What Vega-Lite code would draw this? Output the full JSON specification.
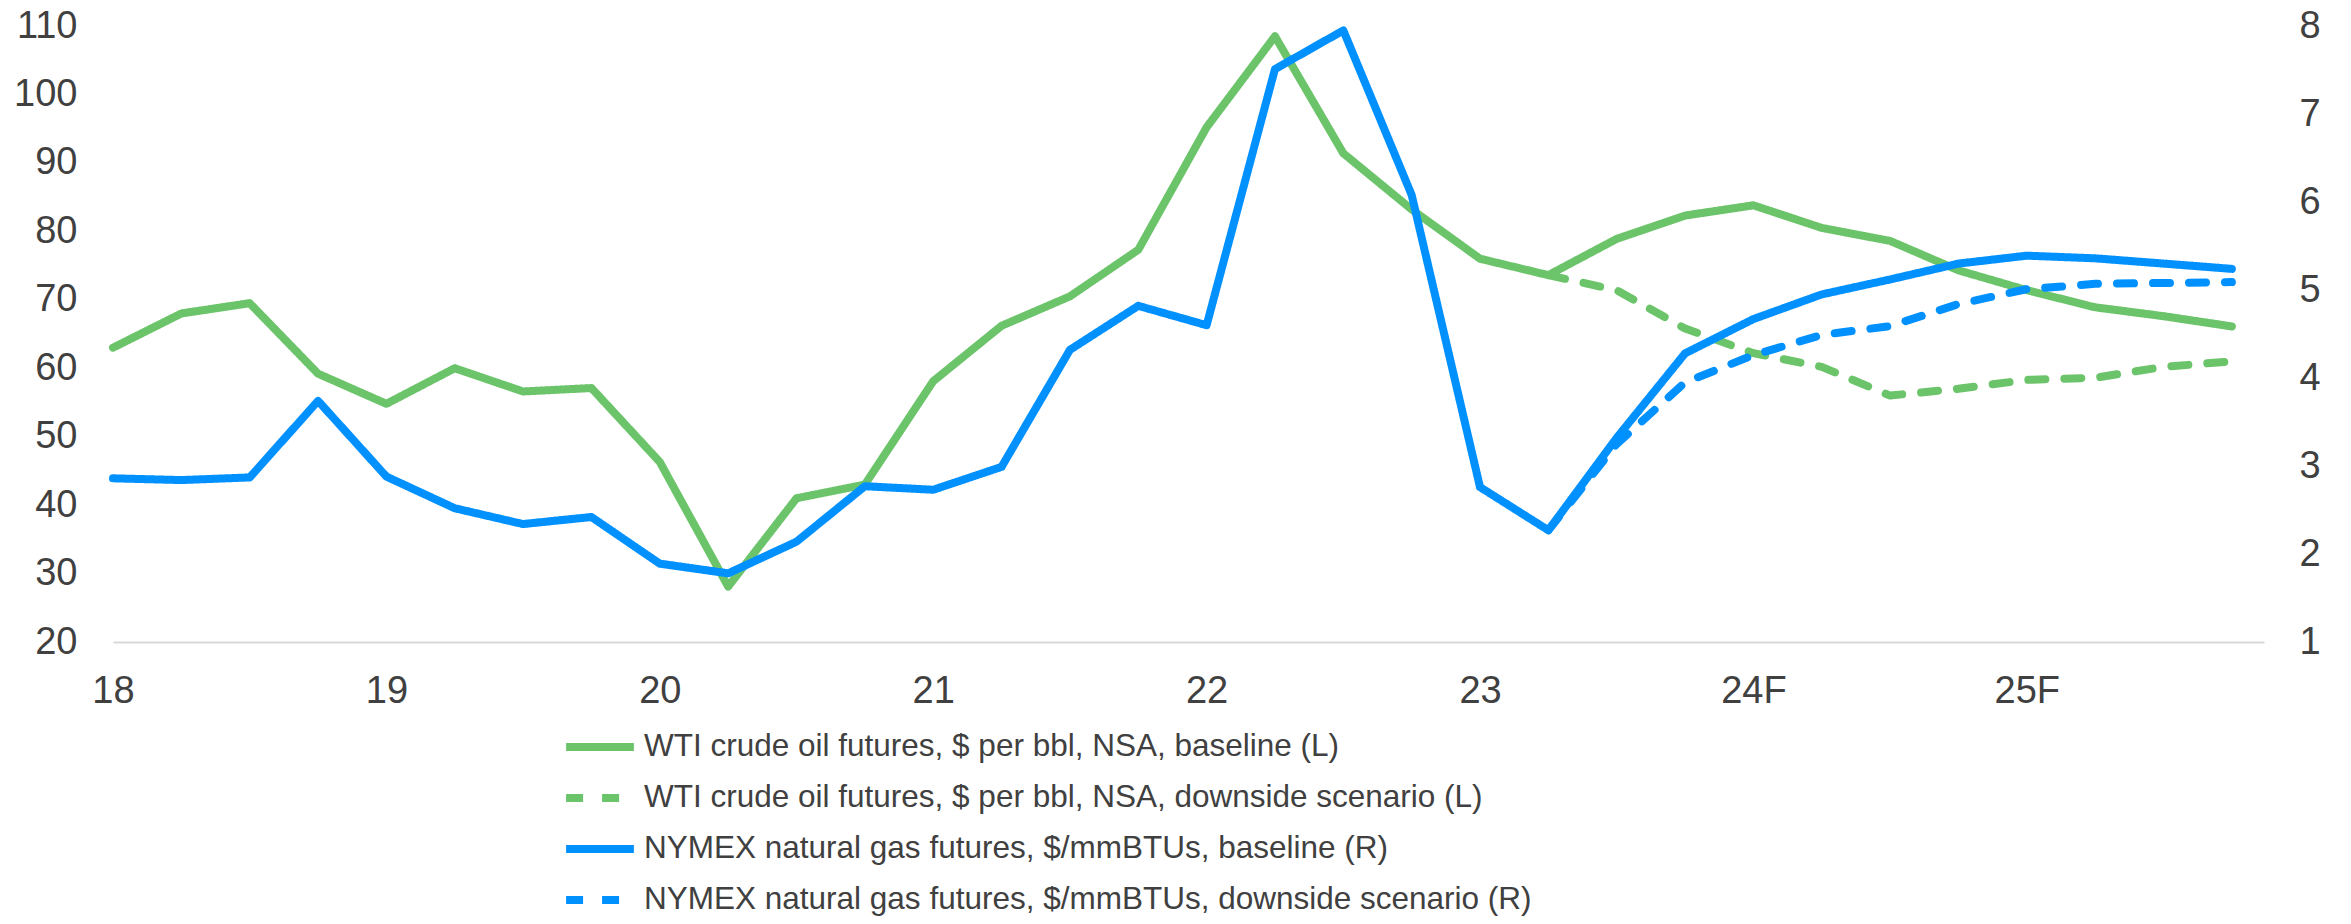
{
  "$schema": "https://vega.github.io/schema/vega-lite/v6.json",
  "width": 2151,
  "height": 616,
  "autosize": {"type": "none"},
  "padding": {"left": 113, "top": 26, "right": 87, "bottom": 282},
  "background": "white",
  "config": {
    "view": {"stroke": null},
    "font": "Liberation Sans",
    "axis": {"labelFont": "Liberation Sans", "labelFontSize": 38, "labelColor": "#404040", "ticks": false, "grid": false, "title": null}
  },
  "datasets": {
    "oil": [
      {"q": 0, "series": "WTI crude oil futures, $ per bbl, NSA, baseline (L)", "value": 63.0},
      {"q": 1, "series": "WTI crude oil futures, $ per bbl, NSA, baseline (L)", "value": 68.0},
      {"q": 2, "series": "WTI crude oil futures, $ per bbl, NSA, baseline (L)", "value": 69.5},
      {"q": 3, "series": "WTI crude oil futures, $ per bbl, NSA, baseline (L)", "value": 59.2},
      {"q": 4, "series": "WTI crude oil futures, $ per bbl, NSA, baseline (L)", "value": 54.8},
      {"q": 5, "series": "WTI crude oil futures, $ per bbl, NSA, baseline (L)", "value": 60.0},
      {"q": 6, "series": "WTI crude oil futures, $ per bbl, NSA, baseline (L)", "value": 56.6},
      {"q": 7, "series": "WTI crude oil futures, $ per bbl, NSA, baseline (L)", "value": 57.1},
      {"q": 8, "series": "WTI crude oil futures, $ per bbl, NSA, baseline (L)", "value": 46.3},
      {"q": 9, "series": "WTI crude oil futures, $ per bbl, NSA, baseline (L)", "value": 28.1},
      {"q": 10, "series": "WTI crude oil futures, $ per bbl, NSA, baseline (L)", "value": 41.0},
      {"q": 11, "series": "WTI crude oil futures, $ per bbl, NSA, baseline (L)", "value": 43.0},
      {"q": 12, "series": "WTI crude oil futures, $ per bbl, NSA, baseline (L)", "value": 58.1},
      {"q": 13, "series": "WTI crude oil futures, $ per bbl, NSA, baseline (L)", "value": 66.2},
      {"q": 14, "series": "WTI crude oil futures, $ per bbl, NSA, baseline (L)", "value": 70.5},
      {"q": 15, "series": "WTI crude oil futures, $ per bbl, NSA, baseline (L)", "value": 77.3},
      {"q": 16, "series": "WTI crude oil futures, $ per bbl, NSA, baseline (L)", "value": 95.2},
      {"q": 17, "series": "WTI crude oil futures, $ per bbl, NSA, baseline (L)", "value": 108.5},
      {"q": 18, "series": "WTI crude oil futures, $ per bbl, NSA, baseline (L)", "value": 91.4},
      {"q": 19, "series": "WTI crude oil futures, $ per bbl, NSA, baseline (L)", "value": 83.2},
      {"q": 20, "series": "WTI crude oil futures, $ per bbl, NSA, baseline (L)", "value": 76.0},
      {"q": 21, "series": "WTI crude oil futures, $ per bbl, NSA, baseline (L)", "value": 73.6},
      {"q": 22, "series": "WTI crude oil futures, $ per bbl, NSA, baseline (L)", "value": 78.9},
      {"q": 23, "series": "WTI crude oil futures, $ per bbl, NSA, baseline (L)", "value": 82.3},
      {"q": 24, "series": "WTI crude oil futures, $ per bbl, NSA, baseline (L)", "value": 83.8},
      {"q": 25, "series": "WTI crude oil futures, $ per bbl, NSA, baseline (L)", "value": 80.5},
      {"q": 26, "series": "WTI crude oil futures, $ per bbl, NSA, baseline (L)", "value": 78.6},
      {"q": 27, "series": "WTI crude oil futures, $ per bbl, NSA, baseline (L)", "value": 74.3},
      {"q": 28, "series": "WTI crude oil futures, $ per bbl, NSA, baseline (L)", "value": 71.4},
      {"q": 29, "series": "WTI crude oil futures, $ per bbl, NSA, baseline (L)", "value": 68.9},
      {"q": 30, "series": "WTI crude oil futures, $ per bbl, NSA, baseline (L)", "value": 67.6},
      {"q": 31, "series": "WTI crude oil futures, $ per bbl, NSA, baseline (L)", "value": 66.1},
      {"q": 21, "series": "WTI crude oil futures, $ per bbl, NSA, downside scenario (L)", "value": 73.6},
      {"q": 22, "series": "WTI crude oil futures, $ per bbl, NSA, downside scenario (L)", "value": 71.4},
      {"q": 23, "series": "WTI crude oil futures, $ per bbl, NSA, downside scenario (L)", "value": 65.8},
      {"q": 24, "series": "WTI crude oil futures, $ per bbl, NSA, downside scenario (L)", "value": 62.2},
      {"q": 25, "series": "WTI crude oil futures, $ per bbl, NSA, downside scenario (L)", "value": 60.2},
      {"q": 26, "series": "WTI crude oil futures, $ per bbl, NSA, downside scenario (L)", "value": 56.0},
      {"q": 27, "series": "WTI crude oil futures, $ per bbl, NSA, downside scenario (L)", "value": 57.0},
      {"q": 28, "series": "WTI crude oil futures, $ per bbl, NSA, downside scenario (L)", "value": 58.3},
      {"q": 29, "series": "WTI crude oil futures, $ per bbl, NSA, downside scenario (L)", "value": 58.6},
      {"q": 30, "series": "WTI crude oil futures, $ per bbl, NSA, downside scenario (L)", "value": 60.2},
      {"q": 31, "series": "WTI crude oil futures, $ per bbl, NSA, downside scenario (L)", "value": 61.0}
    ],
    "gas": [
      {"q": 0, "series": "NYMEX natural gas futures, $/mmBTUs, baseline (R)", "value": 2.86},
      {"q": 1, "series": "NYMEX natural gas futures, $/mmBTUs, baseline (R)", "value": 2.84},
      {"q": 2, "series": "NYMEX natural gas futures, $/mmBTUs, baseline (R)", "value": 2.87},
      {"q": 3, "series": "NYMEX natural gas futures, $/mmBTUs, baseline (R)", "value": 3.74},
      {"q": 4, "series": "NYMEX natural gas futures, $/mmBTUs, baseline (R)", "value": 2.88},
      {"q": 5, "series": "NYMEX natural gas futures, $/mmBTUs, baseline (R)", "value": 2.52},
      {"q": 6, "series": "NYMEX natural gas futures, $/mmBTUs, baseline (R)", "value": 2.34},
      {"q": 7, "series": "NYMEX natural gas futures, $/mmBTUs, baseline (R)", "value": 2.42},
      {"q": 8, "series": "NYMEX natural gas futures, $/mmBTUs, baseline (R)", "value": 1.89},
      {"q": 9, "series": "NYMEX natural gas futures, $/mmBTUs, baseline (R)", "value": 1.78},
      {"q": 10, "series": "NYMEX natural gas futures, $/mmBTUs, baseline (R)", "value": 2.14},
      {"q": 11, "series": "NYMEX natural gas futures, $/mmBTUs, baseline (R)", "value": 2.77},
      {"q": 12, "series": "NYMEX natural gas futures, $/mmBTUs, baseline (R)", "value": 2.73},
      {"q": 13, "series": "NYMEX natural gas futures, $/mmBTUs, baseline (R)", "value": 2.99},
      {"q": 14, "series": "NYMEX natural gas futures, $/mmBTUs, baseline (R)", "value": 4.32},
      {"q": 15, "series": "NYMEX natural gas futures, $/mmBTUs, baseline (R)", "value": 4.82},
      {"q": 16, "series": "NYMEX natural gas futures, $/mmBTUs, baseline (R)", "value": 4.60},
      {"q": 17, "series": "NYMEX natural gas futures, $/mmBTUs, baseline (R)", "value": 7.51},
      {"q": 18, "series": "NYMEX natural gas futures, $/mmBTUs, baseline (R)", "value": 7.95},
      {"q": 19, "series": "NYMEX natural gas futures, $/mmBTUs, baseline (R)", "value": 6.08},
      {"q": 20, "series": "NYMEX natural gas futures, $/mmBTUs, baseline (R)", "value": 2.76},
      {"q": 21, "series": "NYMEX natural gas futures, $/mmBTUs, baseline (R)", "value": 2.27},
      {"q": 22, "series": "NYMEX natural gas futures, $/mmBTUs, baseline (R)", "value": 3.32},
      {"q": 23, "series": "NYMEX natural gas futures, $/mmBTUs, baseline (R)", "value": 4.28},
      {"q": 24, "series": "NYMEX natural gas futures, $/mmBTUs, baseline (R)", "value": 4.67},
      {"q": 25, "series": "NYMEX natural gas futures, $/mmBTUs, baseline (R)", "value": 4.95},
      {"q": 26, "series": "NYMEX natural gas futures, $/mmBTUs, baseline (R)", "value": 5.12},
      {"q": 27, "series": "NYMEX natural gas futures, $/mmBTUs, baseline (R)", "value": 5.30},
      {"q": 28, "series": "NYMEX natural gas futures, $/mmBTUs, baseline (R)", "value": 5.39},
      {"q": 29, "series": "NYMEX natural gas futures, $/mmBTUs, baseline (R)", "value": 5.36},
      {"q": 30, "series": "NYMEX natural gas futures, $/mmBTUs, baseline (R)", "value": 5.30},
      {"q": 31, "series": "NYMEX natural gas futures, $/mmBTUs, baseline (R)", "value": 5.24},
      {"q": 21, "series": "NYMEX natural gas futures, $/mmBTUs, downside scenario (R)", "value": 2.27},
      {"q": 22, "series": "NYMEX natural gas futures, $/mmBTUs, downside scenario (R)", "value": 3.25},
      {"q": 23, "series": "NYMEX natural gas futures, $/mmBTUs, downside scenario (R)", "value": 3.95},
      {"q": 24, "series": "NYMEX natural gas futures, $/mmBTUs, downside scenario (R)", "value": 4.26},
      {"q": 25, "series": "NYMEX natural gas futures, $/mmBTUs, downside scenario (R)", "value": 4.49},
      {"q": 26, "series": "NYMEX natural gas futures, $/mmBTUs, downside scenario (R)", "value": 4.59},
      {"q": 27, "series": "NYMEX natural gas futures, $/mmBTUs, downside scenario (R)", "value": 4.84},
      {"q": 28, "series": "NYMEX natural gas futures, $/mmBTUs, downside scenario (R)", "value": 5.01},
      {"q": 29, "series": "NYMEX natural gas futures, $/mmBTUs, downside scenario (R)", "value": 5.07},
      {"q": 30, "series": "NYMEX natural gas futures, $/mmBTUs, downside scenario (R)", "value": 5.08},
      {"q": 31, "series": "NYMEX natural gas futures, $/mmBTUs, downside scenario (R)", "value": 5.09}
    ]
  },
  "encoding": {
    "x": {
      "field": "q", "type": "quantitative",
      "scale": {"domain": [0, 31.47], "nice": false, "zero": false},
      "axis": {
        "values": [0, 4, 8, 12, 16, 20, 24, 28],
        "labelExpr": "datum.value == 24 ? '24F' : datum.value == 28 ? '25F' : toString(18 + datum.value / 4)",
        "domainColor": "#d9d9d9", "domainWidth": 2, "labelPadding": 30, "labelFlush": false
      }
    },
    "color": {
      "field": "series", "type": "nominal",
      "scale": {
        "domain": ["WTI crude oil futures, $ per bbl, NSA, baseline (L)", "WTI crude oil futures, $ per bbl, NSA, downside scenario (L)", "NYMEX natural gas futures, $/mmBTUs, baseline (R)", "NYMEX natural gas futures, $/mmBTUs, downside scenario (R)"],
        "range": ["#6cc46a", "#6cc46a", "#0091ff", "#0091ff"]
      },
      "legend": {
        "title": null, "orient": "none", "legendX": 449, "legendY": 701, "padding": 0,
        "symbolType": "stroke", "symbolSize": 4600, "symbolStrokeWidth": 8,
        "labelFont": "Liberation Sans", "labelFontSize": 31.5, "labelColor": "#404040", "labelOffset": 6,
        "clipHeight": 40, "rowPadding": 11, "labelLimit": 2000
      }
    },
    "strokeDash": {
      "field": "series", "type": "nominal",
      "scale": {
        "domain": ["WTI crude oil futures, $ per bbl, NSA, baseline (L)", "WTI crude oil futures, $ per bbl, NSA, downside scenario (L)", "NYMEX natural gas futures, $/mmBTUs, baseline (R)", "NYMEX natural gas futures, $/mmBTUs, downside scenario (R)"],
        "range": [[1, 0], [17, 19], [1, 0], [17, 19]]
      },
      "legend": {
        "title": null, "orient": "none", "legendX": 449, "legendY": 701, "padding": 0,
        "symbolType": "stroke", "symbolSize": 4600, "symbolStrokeWidth": 8,
        "labelFont": "Liberation Sans", "labelFontSize": 31.5, "labelColor": "#404040", "labelOffset": 6,
        "clipHeight": 40, "rowPadding": 11, "labelLimit": 2000
      }
    }
  },
  "layer": [
    {
      "data": {"name": "oil"},
      "mark": {"type": "line", "strokeWidth": 8, "strokeCap": "round", "strokeJoin": "round"},
      "encoding": {
        "y": {
          "field": "value", "type": "quantitative",
          "scale": {"domain": [20, 110], "nice": false, "zero": false},
          "axis": {"orient": "left", "values": [20, 30, 40, 50, 60, 70, 80, 90, 100, 110], "domain": false, "labelPadding": 36}
        }
      }
    },
    {
      "data": {"name": "gas"},
      "mark": {"type": "line", "strokeWidth": 8, "strokeCap": "round", "strokeJoin": "round"},
      "encoding": {
        "y": {
          "field": "value", "type": "quantitative",
          "scale": {"domain": [1, 8], "nice": false, "zero": false},
          "axis": {"orient": "right", "values": [1, 2, 3, 4, 5, 6, 7, 8], "domain": false, "labelPadding": 35}
        }
      }
    }
  ],
  "resolve": {"scale": {"y": "independent"}}
}
